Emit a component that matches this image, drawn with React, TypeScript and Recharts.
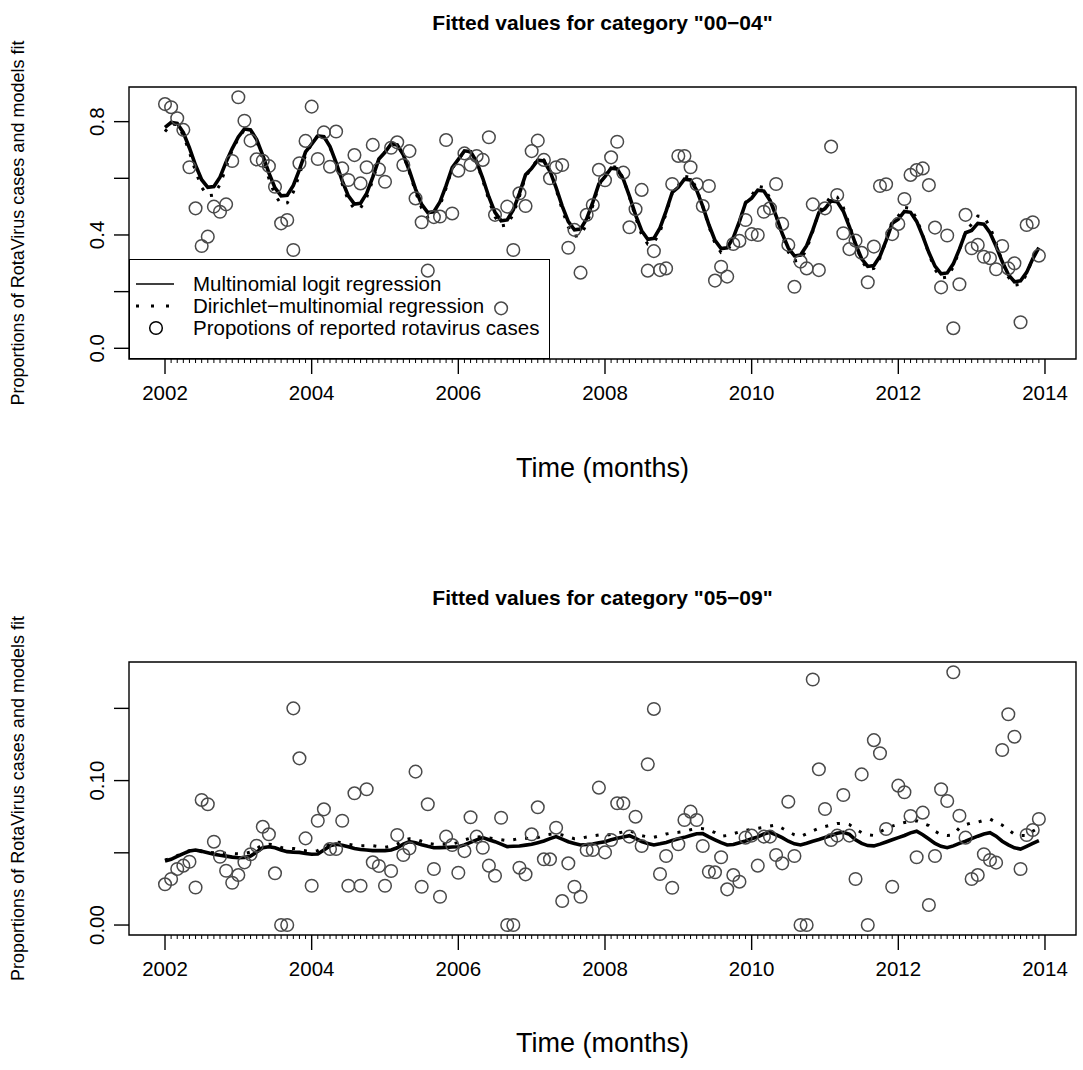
import React from 'react';
import { ComposedChart, Line, Scatter, XAxis, YAxis, ReferenceArea, Legend } from 'recharts';

const FONT = '"Liberation Sans", Arial, Helvetica, sans-serif';

// ---- time axis (monthly, Jan 2002 .. Dec 2013) ----
const startYear = 2002;
const monthCount = 144;
const monthTimes = Array.from({ length: monthCount }, (_, i) => startYear + i / 12);
const xTickValues = Array.from({ length: monthCount + 1 }, (_, i) => startYear + i / 12);
const majorYears = [2002, 2004, 2006, 2008, 2010, 2012, 2014];

// ---- category "00-04" ----
const obs0004 = [
  0.862, 0.851, 0.812, 0.771, 0.639, 0.494, 0.361, 0.394, 0.500, 0.482, 0.508, 0.661,
  0.886, 0.803, 0.733, 0.667, 0.662, 0.643, 0.570, 0.441, 0.453, 0.347, 0.653, 0.732,
  0.853, 0.668, 0.762, 0.641, 0.765, 0.635, 0.594, 0.682, 0.582, 0.639, 0.718, 0.632,
  0.588, 0.708, 0.727, 0.647, 0.696, 0.529, 0.445, 0.274, 0.463, 0.465, 0.735, 0.476,
  0.627, 0.688, 0.647, 0.679, 0.665, 0.745, 0.471, 0.141, 0.500, 0.347, 0.547, 0.502,
  0.696, 0.733, 0.665, 0.600, 0.639, 0.647, 0.355, 0.418, 0.267, 0.471, 0.506, 0.630,
  0.593, 0.674, 0.729, 0.620, 0.427, 0.491, 0.559, 0.274, 0.343, 0.276, 0.282, 0.580,
  0.679, 0.679, 0.639, 0.579, 0.502, 0.573, 0.239, 0.288, 0.253, 0.368, 0.379, 0.453,
  0.403, 0.400, 0.482, 0.494, 0.580, 0.439, 0.365, 0.217, 0.306, 0.282, 0.508, 0.276,
  0.494, 0.712, 0.541, 0.406, 0.350, 0.380, 0.337, 0.233, 0.359, 0.573, 0.579, 0.403,
  0.439, 0.527, 0.612, 0.629, 0.635, 0.576, 0.426, 0.215, 0.398, 0.071, 0.226, 0.471,
  0.353, 0.365, 0.323, 0.318, 0.279, 0.361, 0.282, 0.300, 0.092, 0.435, 0.445, 0.327,
];
const multi0004 = [
  0.780, 0.797, 0.794, 0.761, 0.707, 0.646, 0.595, 0.568, 0.571, 0.604, 0.658, 0.705,
  0.746, 0.774, 0.771, 0.737, 0.681, 0.619, 0.566, 0.538, 0.540, 0.575, 0.631, 0.693,
  0.721, 0.750, 0.747, 0.712, 0.655, 0.591, 0.538, 0.509, 0.512, 0.547, 0.604, 0.668,
  0.692, 0.721, 0.718, 0.683, 0.626, 0.562, 0.508, 0.479, 0.482, 0.517, 0.574, 0.638,
  0.667, 0.697, 0.694, 0.658, 0.600, 0.534, 0.480, 0.450, 0.453, 0.489, 0.547, 0.613,
  0.635, 0.664, 0.661, 0.625, 0.567, 0.502, 0.447, 0.418, 0.421, 0.457, 0.515, 0.580,
  0.606, 0.636, 0.633, 0.597, 0.537, 0.471, 0.415, 0.385, 0.388, 0.425, 0.484, 0.550,
  0.568, 0.597, 0.594, 0.558, 0.501, 0.436, 0.381, 0.352, 0.355, 0.391, 0.448, 0.513,
  0.530, 0.558, 0.555, 0.522, 0.467, 0.405, 0.354, 0.326, 0.329, 0.362, 0.417, 0.479,
  0.493, 0.520, 0.517, 0.484, 0.429, 0.368, 0.316, 0.289, 0.292, 0.325, 0.380, 0.441,
  0.456, 0.483, 0.480, 0.448, 0.396, 0.338, 0.290, 0.263, 0.266, 0.298, 0.350, 0.408,
  0.416, 0.441, 0.438, 0.408, 0.360, 0.306, 0.260, 0.235, 0.238, 0.268, 0.316, 0.355,
];
const dir0004 = [
  0.765, 0.792, 0.789, 0.752, 0.692, 0.625, 0.568, 0.538, 0.541, 0.578, 0.638, 0.700,
  0.740, 0.772, 0.768, 0.730, 0.668, 0.599, 0.541, 0.509, 0.513, 0.551, 0.613, 0.682,
  0.721, 0.752, 0.748, 0.711, 0.649, 0.580, 0.522, 0.491, 0.495, 0.532, 0.594, 0.663,
  0.693, 0.724, 0.720, 0.683, 0.621, 0.552, 0.494, 0.463, 0.467, 0.504, 0.566, 0.635,
  0.665, 0.697, 0.693, 0.655, 0.593, 0.523, 0.464, 0.432, 0.436, 0.474, 0.536, 0.606,
  0.636, 0.669, 0.665, 0.626, 0.561, 0.489, 0.428, 0.395, 0.399, 0.438, 0.503, 0.575,
  0.609, 0.642, 0.638, 0.599, 0.534, 0.462, 0.401, 0.368, 0.372, 0.411, 0.476, 0.548,
  0.575, 0.607, 0.603, 0.564, 0.501, 0.430, 0.370, 0.338, 0.342, 0.381, 0.444, 0.515,
  0.540, 0.572, 0.568, 0.530, 0.468, 0.398, 0.340, 0.308, 0.312, 0.350, 0.412, 0.482,
  0.507, 0.538, 0.534, 0.497, 0.436, 0.367, 0.309, 0.278, 0.282, 0.319, 0.380, 0.449,
  0.467, 0.497, 0.494, 0.458, 0.399, 0.333, 0.278, 0.248, 0.251, 0.287, 0.346, 0.412,
  0.438, 0.467, 0.464, 0.429, 0.371, 0.306, 0.252, 0.223, 0.226, 0.261, 0.319, 0.360,
];

// ---- category "05-09" ----
const obs0509 = [
  0.0282, 0.0319, 0.0388, 0.0411, 0.0438, 0.0260, 0.0866, 0.0836, 0.0577, 0.0473, 0.0376, 0.0293,
  0.0346, 0.0434, 0.0490, 0.0549, 0.0680, 0.0628, 0.0358, 0.0000, 0.0000, 0.1500, 0.1154, 0.0600,
  0.0272, 0.0722, 0.0801, 0.0526, 0.0526, 0.0722, 0.0272, 0.0912, 0.0272, 0.0940, 0.0434, 0.0409,
  0.0272, 0.0374, 0.0623, 0.0485, 0.0531, 0.1062, 0.0265, 0.0836, 0.0388, 0.0196, 0.0612, 0.0554,
  0.0362, 0.0512, 0.0746, 0.0612, 0.0535, 0.0411, 0.0341, 0.0743, 0.0000, 0.0000, 0.0397, 0.0351,
  0.0628, 0.0815, 0.0455, 0.0455, 0.0674, 0.0166, 0.0427, 0.0265, 0.0196, 0.0519, 0.0519, 0.0951,
  0.0503, 0.0589, 0.0843, 0.0843, 0.0612, 0.0750, 0.0547, 0.1113, 0.1496, 0.0353, 0.0478, 0.0258,
  0.0559, 0.0727, 0.0785, 0.0727, 0.0547, 0.0369, 0.0365, 0.0469, 0.0247, 0.0346, 0.0300, 0.0605,
  0.0619, 0.0411, 0.0612, 0.0612, 0.0485, 0.0427, 0.0854, 0.0478, 0.0000, 0.0000, 0.1700, 0.1078,
  0.0803, 0.0589, 0.0619, 0.0900, 0.0619, 0.0319, 0.1043, 0.0000, 0.1280, 0.1189, 0.0665, 0.0265,
  0.0965, 0.0919, 0.0755, 0.0469, 0.0778, 0.0139, 0.0478, 0.0940, 0.0859, 0.1750, 0.0757, 0.0605,
  0.0319, 0.0346, 0.0490, 0.0450, 0.0432, 0.1212, 0.1459, 0.1304, 0.0388, 0.0623, 0.0658, 0.0734,
];
const multi0509 = [
  0.0443, 0.0455, 0.0475, 0.0495, 0.0512, 0.0519, 0.0510, 0.0500, 0.0490, 0.0483, 0.0477, 0.0470,
  0.0466, 0.0468, 0.0478, 0.0505, 0.0535, 0.0542, 0.0535, 0.0520, 0.0508, 0.0505, 0.0503, 0.0495,
  0.0490, 0.0492, 0.0520, 0.0548, 0.0559, 0.0553, 0.0542, 0.0530, 0.0523, 0.0520, 0.0515, 0.0515,
  0.0515, 0.0520, 0.0535, 0.0560, 0.0577, 0.0570, 0.0556, 0.0545, 0.0535, 0.0536, 0.0537, 0.0540,
  0.0542, 0.0555, 0.0572, 0.0590, 0.0605, 0.0590, 0.0577, 0.0560, 0.0543, 0.0545, 0.0547, 0.0553,
  0.0559, 0.0570, 0.0582, 0.0598, 0.0612, 0.0595, 0.0577, 0.0565, 0.0554, 0.0557, 0.0561, 0.0570,
  0.0577, 0.0590, 0.0600, 0.0610, 0.0619, 0.0600, 0.0577, 0.0565, 0.0554, 0.0562, 0.0572, 0.0585,
  0.0598, 0.0607, 0.0620, 0.0632, 0.0633, 0.0610, 0.0590, 0.0570, 0.0554, 0.0558, 0.0570, 0.0582,
  0.0597, 0.0610, 0.0630, 0.0642, 0.0625, 0.0605, 0.0580, 0.0562, 0.0554, 0.0566, 0.0580, 0.0592,
  0.0606, 0.0620, 0.0635, 0.0642, 0.0628, 0.0590, 0.0565, 0.0550, 0.0548, 0.0560, 0.0575, 0.0590,
  0.0605, 0.0620, 0.0638, 0.0650, 0.0625, 0.0595, 0.0565, 0.0545, 0.0535, 0.0548, 0.0565, 0.0580,
  0.0598, 0.0615, 0.0630, 0.0639, 0.0615, 0.0580, 0.0555, 0.0535, 0.0526, 0.0545, 0.0565, 0.0584,
];
const dir0509 = [
  0.0450, 0.0462, 0.0480, 0.0500, 0.0515, 0.0520, 0.0513, 0.0505, 0.0500, 0.0498, 0.0497, 0.0495,
  0.0493, 0.0495, 0.0505, 0.0530, 0.0555, 0.0560, 0.0555, 0.0537, 0.0533, 0.0530, 0.0522, 0.0514,
  0.0510, 0.0515, 0.0540, 0.0565, 0.0575, 0.0570, 0.0560, 0.0552, 0.0549, 0.0549, 0.0549, 0.0543,
  0.0538, 0.0545, 0.0560, 0.0585, 0.0598, 0.0596, 0.0580, 0.0566, 0.0560, 0.0560, 0.0560, 0.0561,
  0.0572, 0.0589, 0.0602, 0.0610, 0.0612, 0.0603, 0.0596, 0.0590, 0.0584, 0.0590, 0.0600, 0.0600,
  0.0598, 0.0605, 0.0620, 0.0628, 0.0628, 0.0623, 0.0610, 0.0598, 0.0600, 0.0610, 0.0617, 0.0623,
  0.0620, 0.0627, 0.0635, 0.0645, 0.0653, 0.0637, 0.0619, 0.0610, 0.0607, 0.0618, 0.0630, 0.0637,
  0.0642, 0.0648, 0.0660, 0.0669, 0.0667, 0.0658, 0.0640, 0.0614, 0.0620, 0.0632, 0.0645, 0.0655,
  0.0662, 0.0670, 0.0676, 0.0685, 0.0692, 0.0670, 0.0646, 0.0625, 0.0612, 0.0632, 0.0652, 0.0670,
  0.0682, 0.0693, 0.0703, 0.0704, 0.0695, 0.0665, 0.0640, 0.0625, 0.0620, 0.0645, 0.0668, 0.0685,
  0.0698, 0.0710, 0.0718, 0.0722, 0.0705, 0.0688, 0.0650, 0.0625, 0.0620, 0.0625, 0.0672, 0.0695,
  0.0708, 0.0712, 0.0725, 0.0734, 0.0710, 0.0692, 0.0660, 0.0628, 0.0620, 0.0619, 0.0650, 0.0674,
];

const yTicks0004 = [0, 0.2, 0.4, 0.6, 0.8];
const yLabels0004 = ['0.0', '', '0.4', '', '0.8'];
const yTicks0509 = [0, 0.05, 0.1, 0.15];
const yLabels0509 = ['0.00', '', '0.10', ''];

const legendLabels = [
  'Multinomial logit regression',
  'Dirichlet\u2212multinomial regression',
  'Propotions of reported rotavirus cases',
];
const yTitle = 'Proportions of RotaVirus cases and models fit';
const xTitle = 'Time (months)';

// ---- layout ----
const W = 1083;
const PANEL_H = 535;
const PLOT_LEFT = 129;
const PLOT_RIGHT = 1076;
const X_DOMAIN: [number, number] = [2001.509, 2014.423];
const Y_AXIS_W = 100;
const X_AXIS_H = 40;
const TICK_FONT = 20.5;

const XTick = (props: any) => {
  const { x, y, payload } = props;
  const v = payload.value as number;
  const yr = Math.round(v);
  const isYear = Math.abs(v - yr) < 1e-6;
  const major = isYear && majorYears.includes(yr);
  return (
    <g>
      <line x1={x} x2={x} y1={y} y2={y + (major ? 15 : 4)} stroke="#000" strokeWidth={major ? 1.4 : 1} />
      {major && (
        <text x={x} y={y + 33} textAnchor="middle" dominantBaseline="central" fontSize={TICK_FONT} fontFamily={FONT} fill="#000">
          {yr}
        </text>
      )}
    </g>
  );
};

const makeYTick = (ticks: number[], labels: string[]) => (props: any) => {
  const { x, y, payload } = props;
  const idx = ticks.findIndex((t) => Math.abs(t - payload.value) < 1e-9);
  const label = idx >= 0 ? labels[idx] : '';
  const lx = x - 25;
  return (
    <g>
      <line x1={x - 15} x2={x} y1={y} y2={y} stroke="#000" strokeWidth={1.4} />
      {label && (
        <text x={lx} y={y} transform={`rotate(-90 ${lx} ${y})`} textAnchor="middle" fontSize={TICK_FONT} fontFamily={FONT} fill="#000">
          {label}
        </text>
      )}
    </g>
  );
};

const Circle = (p: any) => {
  if (p.cx == null || p.cy == null) return <g />;
  return <circle cx={p.cx} cy={p.cy} r={6.3} fill="none" stroke="#4a4a4a" strokeWidth={1.5} />;
};

const LegendBox = () => {
  const rows = [24, 46, 68];
  return (
    <div style={{ position: 'relative', width: 421, height: 100, border: '1.3px solid #000', boxSizing: 'border-box', fontFamily: FONT, fontSize: 20.5, color: '#000' }}>
      <svg width={60} height={100} style={{ position: 'absolute', left: 0, top: 0 }}>
        <line x1={6} x2={44} y1={rows[0]} y2={rows[0]} stroke="#000" strokeWidth={1.5} />
        {[6, 21, 36].map((cx) => (
          <rect key={cx} x={cx} y={rows[1] - 1.5} width={3} height={3} fill="#000" />
        ))}
        <circle cx={26} cy={rows[2]} r={6.3} fill="none" stroke="#000" strokeWidth={1.5} />
      </svg>
      {legendLabels.map((lab, i) => (
        <div key={lab} style={{ position: 'absolute', left: 63, top: rows[i] - 12, height: 24, lineHeight: '24px', whiteSpace: 'nowrap' }}>
          {lab}
        </div>
      ))}
    </div>
  );
};

type PanelProps = {
  title: string;
  obs: number[];
  multi: number[];
  dir: number[];
  yDomain: [number, number];
  yTicks: number[];
  yLabels: string[];
  plotTop: number;
  plotBottom: number;
  titleY: number;
  xTitleY: number;
  showLegend: boolean;
};

const Panel = (p: PanelProps) => {
  const data = monthTimes.map((t, i) => ({ t, obs: p.obs[i], multi: p.multi[i], dir: p.dir[i] }));
  const midX = (PLOT_LEFT + PLOT_RIGHT) / 2;
  const midY = (p.plotTop + p.plotBottom) / 2;
  const texts = () => (
    <g fontFamily={FONT} fill="#000">
      <text x={midX} y={p.titleY} textAnchor="middle" dominantBaseline="central" fontSize={21} fontWeight="bold">
        {p.title}
      </text>
      <text x={midX} y={p.xTitleY} textAnchor="middle" dominantBaseline="central" fontSize={27}>
        {xTitle}
      </text>
      <text x={18} y={midY} transform={`rotate(-90 18 ${midY})`} textAnchor="middle" dominantBaseline="central" fontSize={18}>
        {yTitle}
      </text>
    </g>
  );
  return (
    <ComposedChart
      width={W}
      height={PANEL_H}
      data={data}
      margin={{ top: p.plotTop, bottom: PANEL_H - p.plotBottom - X_AXIS_H, left: PLOT_LEFT - Y_AXIS_W, right: W - PLOT_RIGHT }}
    >
      <XAxis
        dataKey="t"
        type="number"
        domain={X_DOMAIN}
        allowDataOverflow
        ticks={xTickValues}
        interval={0}
        height={X_AXIS_H}
        tickSize={0}
        tickMargin={0}
        tickLine={false}
        axisLine={false}
        tick={XTick}
        label={texts}
      />
      <YAxis
        type="number"
        domain={p.yDomain}
        allowDataOverflow
        ticks={p.yTicks}
        interval={0}
        width={Y_AXIS_W}
        tickSize={0}
        tickMargin={0}
        tickLine={false}
        axisLine={false}
        tick={makeYTick(p.yTicks, p.yLabels)}
      />
      <Scatter dataKey="obs" shape={Circle} isAnimationActive={false} legendType="circle" name={legendLabels[2]} />
      <Line dataKey="multi" type="linear" stroke="#000" strokeWidth={3.6} dot={false} activeDot={false} isAnimationActive={false} name={legendLabels[0]} />
      <Line dataKey="dir" type="linear" stroke="#000" strokeWidth={3} strokeDasharray="3 9" dot={false} activeDot={false} isAnimationActive={false} name={legendLabels[1]} />
      <ReferenceArea
        x1={X_DOMAIN[0]}
        x2={X_DOMAIN[1]}
        y1={p.yDomain[0]}
        y2={p.yDomain[1]}
        fill="none"
        fillOpacity={0}
        stroke="#000"
        strokeWidth={1.4}
        ifOverflow="visible"
      />
      {p.showLegend && (
        <Legend
          layout="vertical"
          align="center"
          verticalAlign="middle"
          content={LegendBox}
          wrapperStyle={{ left: PLOT_LEFT, top: 259, width: 421, height: 100 }}
        />
      )}
    </ComposedChart>
  );
};

export default function App() {
  return (
    <div style={{ position: 'absolute', left: 0, top: 0, width: W, height: 1070, background: '#fff' }}>
      <div style={{ position: 'absolute', left: 0, top: 0 }}>
        <Panel
          title={'Fitted values for category "00\u221204"'}
          obs={obs0004}
          multi={multi0004}
          dir={dir0004}
          yDomain={[-0.0378, 0.9223]}
          yTicks={yTicks0004}
          yLabels={yLabels0004}
          plotTop={87}
          plotBottom={359}
          titleY={22}
          xTitleY={468}
          showLegend
        />
      </div>
      <div style={{ position: 'absolute', left: 0, top: PANEL_H }}>
        <Panel
          title={'Fitted values for category "05\u221209"'}
          obs={obs0509}
          multi={multi0509}
          dir={dir0509}
          yDomain={[-0.0069, 0.1821]}
          yTicks={yTicks0509}
          yLabels={yLabels0509}
          plotTop={127}
          plotBottom={400}
          titleY={62}
          xTitleY={508}
          showLegend={false}
        />
      </div>
    </div>
  );
}
